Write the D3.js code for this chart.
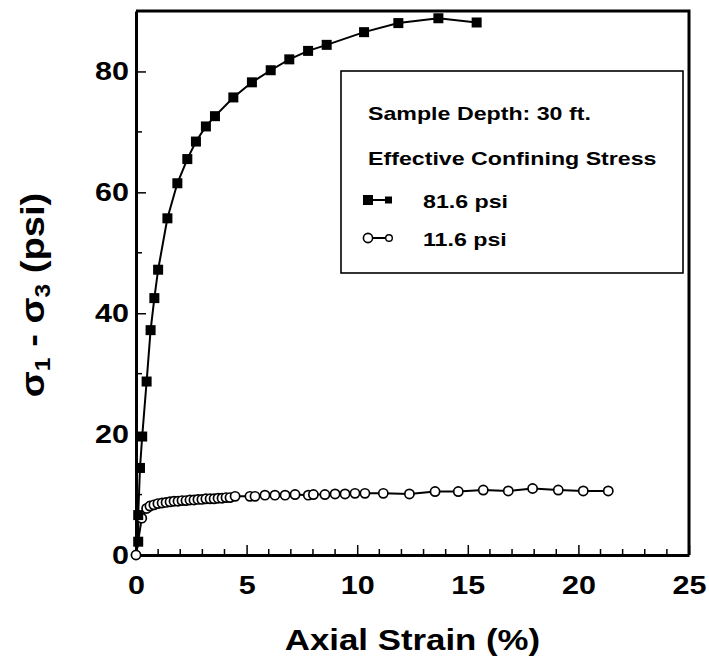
<!DOCTYPE html>
<html>
<head>
<meta charset="utf-8">
<script src="https://cdn.jsdelivr.net/npm/d3@7"></script>
<style>
  html, body { margin: 0; padding: 0; background: #fff; }
  svg { display: block; }
  text { font-family: "Liberation Sans", Arial, Helvetica, sans-serif; font-weight: bold; fill: #000; }
</style>
</head>
<body>
<svg id="chart" width="709" height="663"></svg>
<script>
// ---- data ----
const strain81 = [0, 0.10, 0.10, 0.18, 0.28, 0.48, 0.66, 0.83, 1.00, 1.42, 1.87, 2.32, 2.71, 3.16, 3.57, 4.40, 5.24, 6.09, 6.93, 7.78, 8.62, 10.31, 11.86, 13.67, 15.40];
const stress81 = [0, 2.2, 6.6, 14.4, 19.6, 28.7, 37.2, 42.5, 47.2, 55.7, 61.5, 65.5, 68.4, 70.9, 72.6, 75.7, 78.2, 80.2, 82.0, 83.4, 84.4, 86.5, 88.0, 88.8, 88.1];

const strain11 = [0, 0.26, 0.48,
  0.63, 0.81, 0.99, 1.18, 1.36, 1.54, 1.72, 1.90, 2.08, 2.26, 2.44, 2.62, 2.80, 2.98, 3.16, 3.35, 3.53, 3.71, 3.89, 4.07, 4.25, 4.48,
  5.15, 5.38, 5.83, 6.28, 6.74, 7.19, 7.79, 8.02, 8.54, 9.00, 9.45, 9.90, 10.35, 11.18, 12.36, 13.52, 14.57, 15.70, 16.83, 17.93, 19.09, 20.22, 21.35];
const stress11 = [0, 6.1, 7.7,
  8.1, 8.3, 8.5, 8.6, 8.7, 8.8, 8.9, 8.9, 9.0, 9.0, 9.1, 9.1, 9.2, 9.2, 9.3, 9.3, 9.3, 9.4, 9.4, 9.5, 9.5, 9.7,
  9.7, 9.7, 9.9, 9.9, 9.9, 10.0, 9.9, 10.0, 10.0, 10.1, 10.1, 10.2, 10.2, 10.2, 10.1, 10.5, 10.5, 10.75, 10.6, 11.0, 10.75, 10.6, 10.6];

const xTicks = [0, 5, 10, 15, 20, 25];
const xMinorTicks = [1,2,3,4,6,7,8,9,11,12,13,14,16,17,18,19,21,22,23,24];
const yTicks = [0, 20, 40, 60, 80];
const yMinorTicks = [10, 30, 50, 70];

const legendTitle1 = "Sample Depth: 30 ft.";
const legendTitle2 = "Effective Confining Stress";
const seriesNames = ["81.6 psi", "11.6 psi"];
const xTitle = "Axial Strain (%)";

// ---- layout ----
const svg = d3.select("#chart");
const L = 136, R = 689, T = 11, B = 555;
const x = d3.scaleLinear().domain([0, 25]).range([L, R]);
const y = d3.scaleLinear().domain([0, 90]).range([B, T]);

// horizontally widen text glyphs (the reference type is wide)
function widen(sel, k) {
  sel.each(function () {
    const len = this.getComputedTextLength();
    d3.select(this).attr("textLength", len * k).attr("lengthAdjust", "spacingAndGlyphs");
  });
}

// frame (top & right)
svg.append("path")
  .attr("d", `M${L},${T}H${R}V${B}`)
  .attr("fill", "none").attr("stroke", "#000").attr("stroke-width", 3);

// x axis
const gx = svg.append("g").attr("transform", `translate(0,${B})`);
gx.call(d3.axisBottom(x).tickValues(xTicks).tickSize(-10).tickSizeOuter(0).tickPadding(21).tickFormat(d3.format("d")));
gx.append("g").selectAll("line").data(xMinorTicks).join("line")
  .attr("x1", d => x(d)).attr("x2", d => x(d)).attr("y1", 0).attr("y2", -6)
  .attr("stroke", "#000").attr("stroke-width", 1.5);
gx.select(".domain").attr("stroke-width", 3);
gx.selectAll(".tick line").attr("stroke-width", 1.5);
gx.selectAll(".tick text").attr("font-family", null).attr("font-size", null).style("font-size", "25px");
widen(gx.selectAll(".tick text"), 1.22);

// y axis
const gy = svg.append("g").attr("transform", `translate(${L},0)`);
gy.call(d3.axisLeft(y).tickValues(yTicks).tickSize(-10).tickSizeOuter(0).tickPadding(7).tickFormat(d3.format("d")));
gy.append("g").selectAll("line").data(yMinorTicks).join("line")
  .attr("y1", d => y(d)).attr("y2", d => y(d)).attr("x1", 0).attr("x2", 6)
  .attr("stroke", "#000").attr("stroke-width", 1.5);
gy.select(".domain").attr("stroke-width", 3);
gy.selectAll(".tick line").attr("stroke-width", 1.5);
gy.selectAll(".tick text").attr("font-family", null).attr("font-size", null).style("font-size", "25px");
widen(gy.selectAll(".tick text"), 1.22);

// axis titles
const xt = svg.append("text").attr("x", (L + R) / 2).attr("y", 650).attr("text-anchor", "middle")
  .style("font-size", "29px").text(xTitle);
widen(xt, 1.2);

const yt = svg.append("text").attr("transform", "translate(44,295) rotate(-90)")
  .attr("text-anchor", "middle").style("font-size", "34px");
yt.append("tspan").text("σ");
yt.append("tspan").attr("baseline-shift", "-25%").style("font-size", "22px").text("1");
yt.append("tspan").text(" - σ");
yt.append("tspan").attr("baseline-shift", "-25%").style("font-size", "22px").text("3");
yt.append("tspan").text(" (psi)");
widen(yt, 1.12);

// series
const line = d3.line().x(d => x(d[0])).y(d => y(d[1]));
const d81 = strain81.map((v, i) => [v, stress81[i]]);
const d11 = strain11.map((v, i) => [v, stress11[i]]);

svg.append("defs").append("clipPath").attr("id", "clip")
  .append("rect").attr("x", L - 8).attr("y", T - 8).attr("width", R - L + 16).attr("height", B - T + 16);

const plot = svg.append("g").attr("clip-path", "url(#clip)");
plot.append("path").datum(d11).attr("d", line).attr("fill", "none").attr("stroke", "#000").attr("stroke-width", 2);
plot.append("path").datum(d81).attr("d", line).attr("fill", "none").attr("stroke", "#000").attr("stroke-width", 2);

plot.selectAll("circle.s11").data(d11).join("circle").attr("class", "s11")
  .attr("cx", d => x(d[0])).attr("cy", d => y(d[1])).attr("r", 4.6)
  .attr("fill", "#fff").attr("stroke", "#000").attr("stroke-width", 1.7);

const sq = 10;
plot.selectAll("rect.s81").data(d81.slice(1)).join("rect").attr("class", "s81")
  .attr("x", d => x(d[0]) - sq / 2).attr("y", d => y(d[1]) - sq / 2)
  .attr("width", sq).attr("height", sq).attr("fill", "#000");

// legend
const lg = svg.append("g");
lg.append("rect").attr("x", 341).attr("y", 71).attr("width", 342).attr("height", 202)
  .attr("fill", "#fff").attr("stroke", "#000").attr("stroke-width", 1.6);
lg.append("text").attr("x", 368).attr("y", 120).style("font-size", "19px").text(legendTitle1);
lg.append("text").attr("x", 368).attr("y", 165).style("font-size", "19px").text(legendTitle2);

const ly1 = 200, ly2 = 238;
lg.append("line").attr("x1", 368).attr("x2", 388).attr("y1", ly1).attr("y2", ly1).attr("stroke", "#000").attr("stroke-width", 2);
lg.append("rect").attr("x", 363).attr("y", ly1 - 5).attr("width", 10).attr("height", 10).attr("fill", "#000");
lg.append("rect").attr("x", 385).attr("y", ly1 - 3.5).attr("width", 7).attr("height", 7).attr("fill", "#000");
lg.append("text").attr("x", 423).attr("y", ly1 + 8).style("font-size", "19px").text(seriesNames[0]);

lg.append("line").attr("x1", 368).attr("x2", 388).attr("y1", ly2).attr("y2", ly2).attr("stroke", "#000").attr("stroke-width", 2);
lg.append("circle").attr("cx", 368).attr("cy", ly2).attr("r", 4.6).attr("fill", "#fff").attr("stroke", "#000").attr("stroke-width", 1.6);
lg.append("circle").attr("cx", 389).attr("cy", ly2).attr("r", 3.3).attr("fill", "#fff").attr("stroke", "#000").attr("stroke-width", 1.4);
lg.append("text").attr("x", 423).attr("y", ly2 + 8).style("font-size", "19px").text(seriesNames[1]);
widen(lg.selectAll("text"), 1.22);
</script>
</body>
</html>
